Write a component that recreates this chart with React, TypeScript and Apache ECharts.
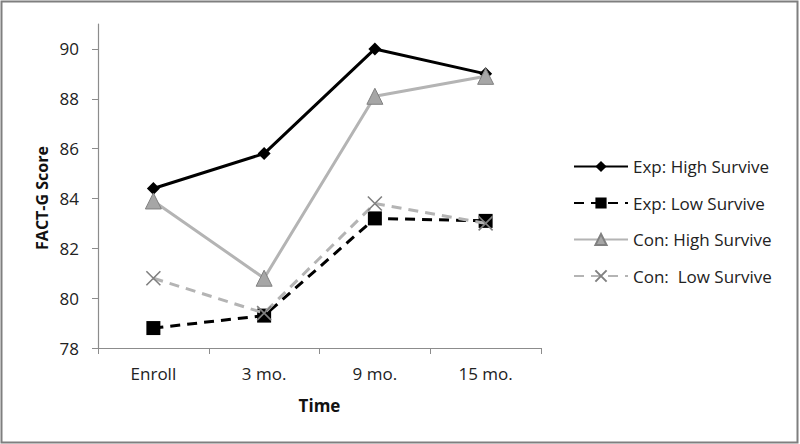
import React, { useEffect, useRef } from "react";
import * as echarts from "echarts";

const categories = ["Enroll", "3 mo.", "9 mo.", "15 mo."];
const expHigh = [84.4, 85.8, 90.0, 89.0];
const expLow = [78.8, 79.3, 83.2, 83.1];
const conHigh = [83.9, 80.8, 88.1, 88.9];
const conLow = [80.8, 79.4, 83.8, 83.0];
const seriesNames = ["Exp: High Survive", "Exp: Low Survive", "Con: High Survive", "Con:  Low Survive"];
const yTitle = "FACT-G Score";
const xTitle = "Time";

const FONT = "Open Sans";
const CROSS = "path://M0,0L10,10M10,0L0,10";

export default function App() {
  const ref = useRef<HTMLDivElement>(null);
  useEffect(() => {
    document.body.style.margin = "0";
    const chart = echarts.init(ref.current!, null, { renderer: "svg" });
    chart.setOption({
      animation: false,
      backgroundColor: "#fff",
      textStyle: { fontFamily: FONT },
      graphic: [
        {
          type: "rect",
          shape: { x: 1.5, y: 1.5, width: 796, height: 441 },
          style: { fill: "none", stroke: "#7f7f7f", lineWidth: 2 },
          silent: true,
        },
        {
          type: "text",
          x: 42,
          y: 198,
          rotation: Math.PI / 2,
          style: {
            text: yTitle,
            fontFamily: FONT,
            fontSize: 16,
            fontWeight: "bold",
            fill: "#111",
            align: "center",
            verticalAlign: "middle",
          },
          silent: true,
        },
      ],
      grid: { left: 98, right: 259, top: 24, bottom: 96 },
      legend: {
        orient: "vertical",
        left: 568,
        top: 153,
        itemWidth: 54,
        itemHeight: 14,
        itemGap: 19.5,
        textStyle: { fontFamily: FONT, fontSize: 17, color: "#222" },
        data: seriesNames,
      },
      xAxis: {
        type: "category",
        data: categories,
        boundaryGap: true,
        name: xTitle,
        nameLocation: "middle",
        nameGap: 49,
        nameTextStyle: { fontFamily: FONT, fontSize: 17, fontWeight: "bold", color: "#111" },
        axisLine: { lineStyle: { color: "#8c8c8c", width: 1.2 } },
        axisTick: { show: true, length: 6, alignWithLabel: false, lineStyle: { color: "#8c8c8c" } },
        axisLabel: { fontFamily: FONT, fontSize: 17, color: "#222", margin: 17 },
      },
      yAxis: {
        type: "value",
        min: 78,
        max: 91,
        interval: 2,
        axisLine: { show: true, lineStyle: { color: "#8c8c8c", width: 1.2 } },
        axisTick: { show: true, length: 6, lineStyle: { color: "#8c8c8c" } },
        axisLabel: { fontFamily: FONT, fontSize: 17, color: "#222", margin: 19, showMaxLabel: false },
        splitLine: { show: false },
      },
      series: [
        {
          name: seriesNames[0],
          type: "line",
          data: expHigh,
          symbol: "diamond",
          symbolSize: 13,
          lineStyle: { color: "#000", width: 3 },
          itemStyle: { color: "#000" },
          z: 5,
        },
        {
          name: seriesNames[1],
          type: "line",
          data: expLow,
          symbol: "rect",
          symbolSize: 14,
          lineStyle: { color: "#000", width: 3, type: [10, 7] },
          itemStyle: { color: "#000" },
          z: 4,
        },
        {
          name: seriesNames[2],
          type: "line",
          data: conHigh,
          symbol: "triangle",
          symbolSize: 16,
          lineStyle: { color: "#b4b4b4", width: 3 },
          itemStyle: { color: "#a6a6a6", borderColor: "#808080", borderWidth: 1 },
          z: 6,
        },
        {
          name: seriesNames[3],
          type: "line",
          data: conLow,
          symbol: CROSS,
          symbolSize: 14,
          lineStyle: { color: "#b4b4b4", width: 3, type: [10, 7] },
          itemStyle: { color: "#808080", borderColor: "#808080", borderWidth: 1.6 },
          z: 7,
        },
      ],
    });
    return () => chart.dispose();
  }, []);
  return <div ref={ref} style={{ width: 800, height: 444 }} />;
}
